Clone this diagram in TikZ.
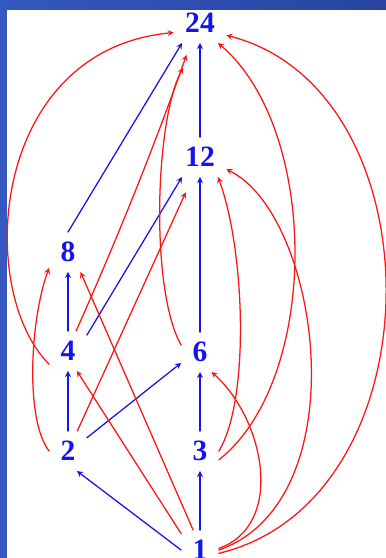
\documentclass[tikz,border=0pt]{standalone}
\usepackage{fontspec}
\setmainfont{Liberation Serif}
\definecolor{divblue}{RGB}{20,20,235}
\definecolor{divred}{RGB}{255,20,20}
\definecolor{frameL}{RGB}{52,88,192}
\definecolor{frameR}{RGB}{40,68,160}

\begin{document}
\begin{tikzpicture}[x=0.025cm,y=-0.025cm,>=stealth,line cap=round,line join=round,
  num/.style={font=\fontsize{21}{25}\selectfont\bfseries,text=divblue,inner xsep=8pt,inner ysep=7pt,text height=14pt,text depth=0pt},
  cover/.style={->,divblue,line width=0.9pt},
  trans/.style={->,divred,line width=0.9pt}]
\useasboundingbox (0,0) rectangle (386,558);
\fill[left color=frameL,right color=frameR] (0,0) rectangle (386,558);
\fill[white] (7,10) rectangle (386,558);
\foreach \n/\x/\y in {24/200/23,12/200/157,8/68/252,4/68/351,6/200/352,2/68/451,3/200/451,1/200/550}
  {\node[num] (n\n) at (\x,\y) {\n};}
\foreach \a/\b in {1/3,2/4,3/6,4/8,6/12,12/24} {\draw[cover] (n\a) -- (n\b);}
\draw[cover] (n1.west) -- (n2.-66);
\draw[cover] (n2.35) -- (n6.-150);
\draw[cover] (n4.40) -- (n12.-132);
\draw[cover] (n8.north) -- (n24.-132);
\draw[trans] (n1.139) -- (n4.-66);
\draw[trans] (n1.109) -- (n8.-58);
\draw[trans] (n1.5) .. controls (285,525) and (265,420) .. (n6.-60);
\draw[trans] (n1.east) .. controls (360,500) and (320,215) .. (n12.-25);
\draw[trans] (n1.-10) .. controls (440,500) and (440,90) .. (n24.-25);
\draw[trans] (n2.west) .. controls (25,420) and (30,320) .. (n8.-140);
\draw[trans,shorten >=12pt] (n2.65) -- (n12.-110);
\draw[trans] (n4.-145) .. controls (-25,290) and (-10,50) .. (n24.-160);
\draw[trans] (n3.east) .. controls (250,400) and (245,250) .. (n12.-48);
\draw[trans] (n3.-25) .. controls (320,380) and (320,130) .. (n24.-48);
\draw[trans,shorten >=9pt] (n4.68) .. controls (119,235) and (157,139) .. (n24.-115);
\draw[trans,shorten >=20pt] (n6.160) .. controls (150,290) and (155,120) .. (n24.-100);
\end{tikzpicture}
\end{document}
